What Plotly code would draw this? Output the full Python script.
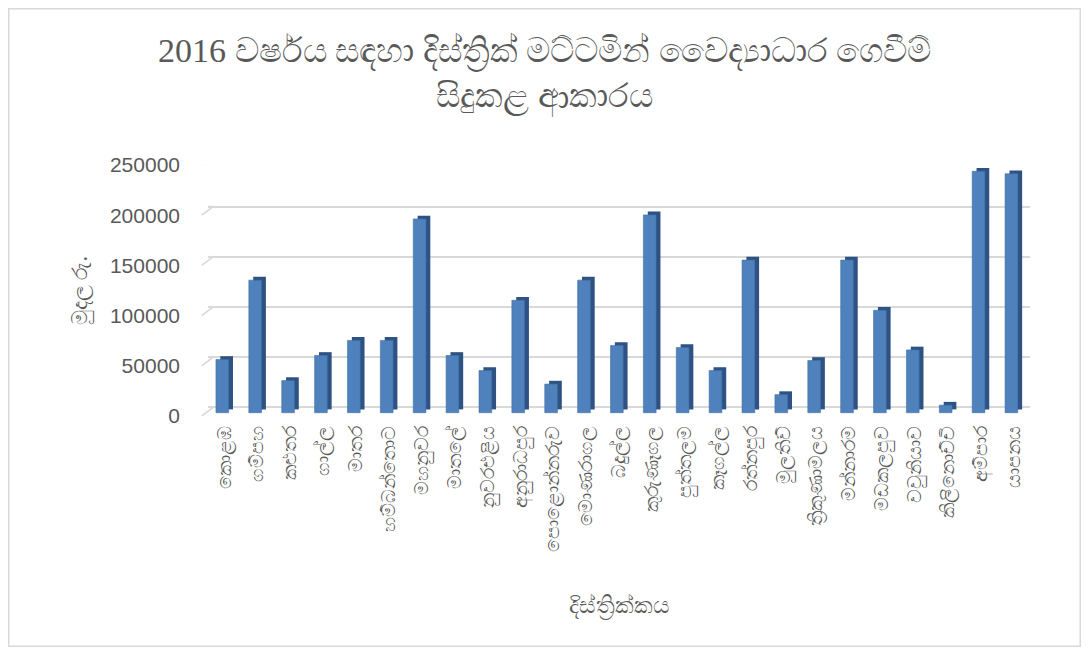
import plotly.graph_objects as go

districts = ["කොළඹ", "ගම්පහ", "කළුතර", "ගාල්ල", "මාතර", "හම්බන්තොට", "මහනුවර",
             "මාතලේ", "නුවරඑළිය", "අනුරාධපුර", "පොළොන්නරුව", "මොණරාගල", "බදුල්ල",
             "කුරුණෑගල", "පුත්තලම", "කෑගල්ල", "රත්නපුර", "මුලතිව්", "ත්‍රිකුණාමලය",
             "මන්නාරම", "මඩකලපුව", "වවුනියාව", "කිලිනොච්චි", "අම්පාර", "යාපනය"]
values = [53000, 132000, 32000, 57000, 72000, 72000, 193000, 57000, 42000, 112000,
          28500, 132000, 67000, 197000, 65000, 42000, 152000, 18000, 52000, 152000,
          102000, 62500, 7500, 240500, 238000]
y_ticks = [0, 50000, 100000, 150000, 200000, 250000]

title_text = "2016 වර්ෂය සඳහා දිස්ත්‍රික් මට්ටමින් වෛද්‍යාධාර ගෙවීම්<br>සිදුකළ ආකාරය"
y_title = "මුදල රු."
x_title = "දිස්ත්‍රික්කය"

# page has an 8px body margin, so the figure is sized to fit inside it
W, H = 1073, 639
L, R, T, B = 200, 51, 157, 231
plot_h = H - T - B
plot_w = W - L - R
ymax = 250000
ppu = plot_h / ymax

# pseudo-3D offsets (px above the tick-label level)
front_shift = 3.3 / ppu
side_shift = 6.6 / ppu
grid_shift = 8.7 / ppu

fig = go.Figure()
# back wall gridlines axis
fig.add_trace(go.Scatter(x=[districts[0]], y=[0], yaxis="y", mode="markers",
                         marker=dict(opacity=0), hoverinfo="skip", showlegend=False))
# side faces
fig.add_trace(go.Bar(x=districts, y=values, yaxis="y2",
                     width=0.386, offset=-0.125,
                     marker=dict(color="#2E5283", line=dict(width=0)),
                     hoverinfo="skip", showlegend=False))
# front faces
fig.add_trace(go.Bar(x=districts, y=values, yaxis="y3",
                     width=0.386, offset=-0.258,
                     marker=dict(color="#4F81BD", line=dict(color="#41709F", width=0.6)),
                     showlegend=False))
# tick-label axis
fig.add_trace(go.Scatter(x=[districts[0]], y=[0], yaxis="y4", mode="markers",
                         marker=dict(opacity=0), hoverinfo="skip", showlegend=False))

# short diagonal "floor" ticks joining labels to the back-wall gridlines
diag_shapes = [dict(type="line", xref="paper", yref="y",
                    x0=(201.7 - 8 - L) / plot_w, x1=(213.3 - 8 - L) / plot_w,
                    y0=v - grid_shift, y1=v,
                    line=dict(color="#D9D9D9", width=1.6)) for v in y_ticks]
# grid segment joining the diagonal to the plot area
grid_ext = [dict(type="line", xref="paper", yref="y",
                 x0=(213.3 - 8 - L) / plot_w, x1=0, y0=v, y1=v,
                 line=dict(color="#D9D9D9", width=1.6)) for v in y_ticks]

frame = dict(type="rect", xref="paper", yref="paper",
             x0=(0.75 - L) / plot_w, x1=(W - 0.75 - L) / plot_w,
             y0=(0.75 - B) / plot_h, y1=(H - B - 0.75) / plot_h,
             line=dict(color="#D9D9D9", width=1.5), layer="below")

fig.update_layout(
    width=W, height=H,
    margin=dict(l=L, r=R, t=T, b=B, autoexpand=False),
    paper_bgcolor="white", plot_bgcolor="white",
    barmode="overlay",
    title=dict(text=title_text, x=0.5, xanchor="center", xref="container",
               y=0.915, yanchor="top", yref="container",
               font=dict(family="Liberation Serif, Noto Sans", size=34, color="#595959")),
    xaxis=dict(range=[-0.5, len(districts) - 0.5],
               showgrid=False, showline=False, zeroline=False, ticks="",
               tickangle=-90, ticklabelstandoff=5, automargin=False,
               tickfont=dict(family="Noto Sans, Liberation Sans", size=19, color="#595959"),
               title=dict(text=x_title, standoff=46,
                          font=dict(family="Noto Sans, Liberation Sans", size=23, color="#595959"))),
    yaxis=dict(range=[-grid_shift, ymax - grid_shift], tickvals=y_ticks, showticklabels=False,
               showgrid=True, gridcolor="#D9D9D9", gridwidth=1.6, zeroline=False,
               showline=False, ticks="", automargin=False),
    yaxis2=dict(range=[-side_shift, ymax - side_shift], overlaying="y", visible=False),
    yaxis3=dict(range=[-front_shift, ymax - front_shift], overlaying="y", visible=False),
    yaxis4=dict(range=[0, ymax], overlaying="y", side="left",
                tickvals=y_ticks, ticktext=[str(v) for v in y_ticks],
                showgrid=False, zeroline=False, showline=False, ticks="",
                ticklabelstandoff=27, automargin=False,
                tickfont=dict(family="Liberation Sans", size=21, color="#595959"),
                title=dict(text=y_title, standoff=16,
                           font=dict(family="Noto Sans, Liberation Sans", size=21, color="#595959"))),
    shapes=[frame] + diag_shapes + grid_ext,
)

fig.write_html("out.html")
